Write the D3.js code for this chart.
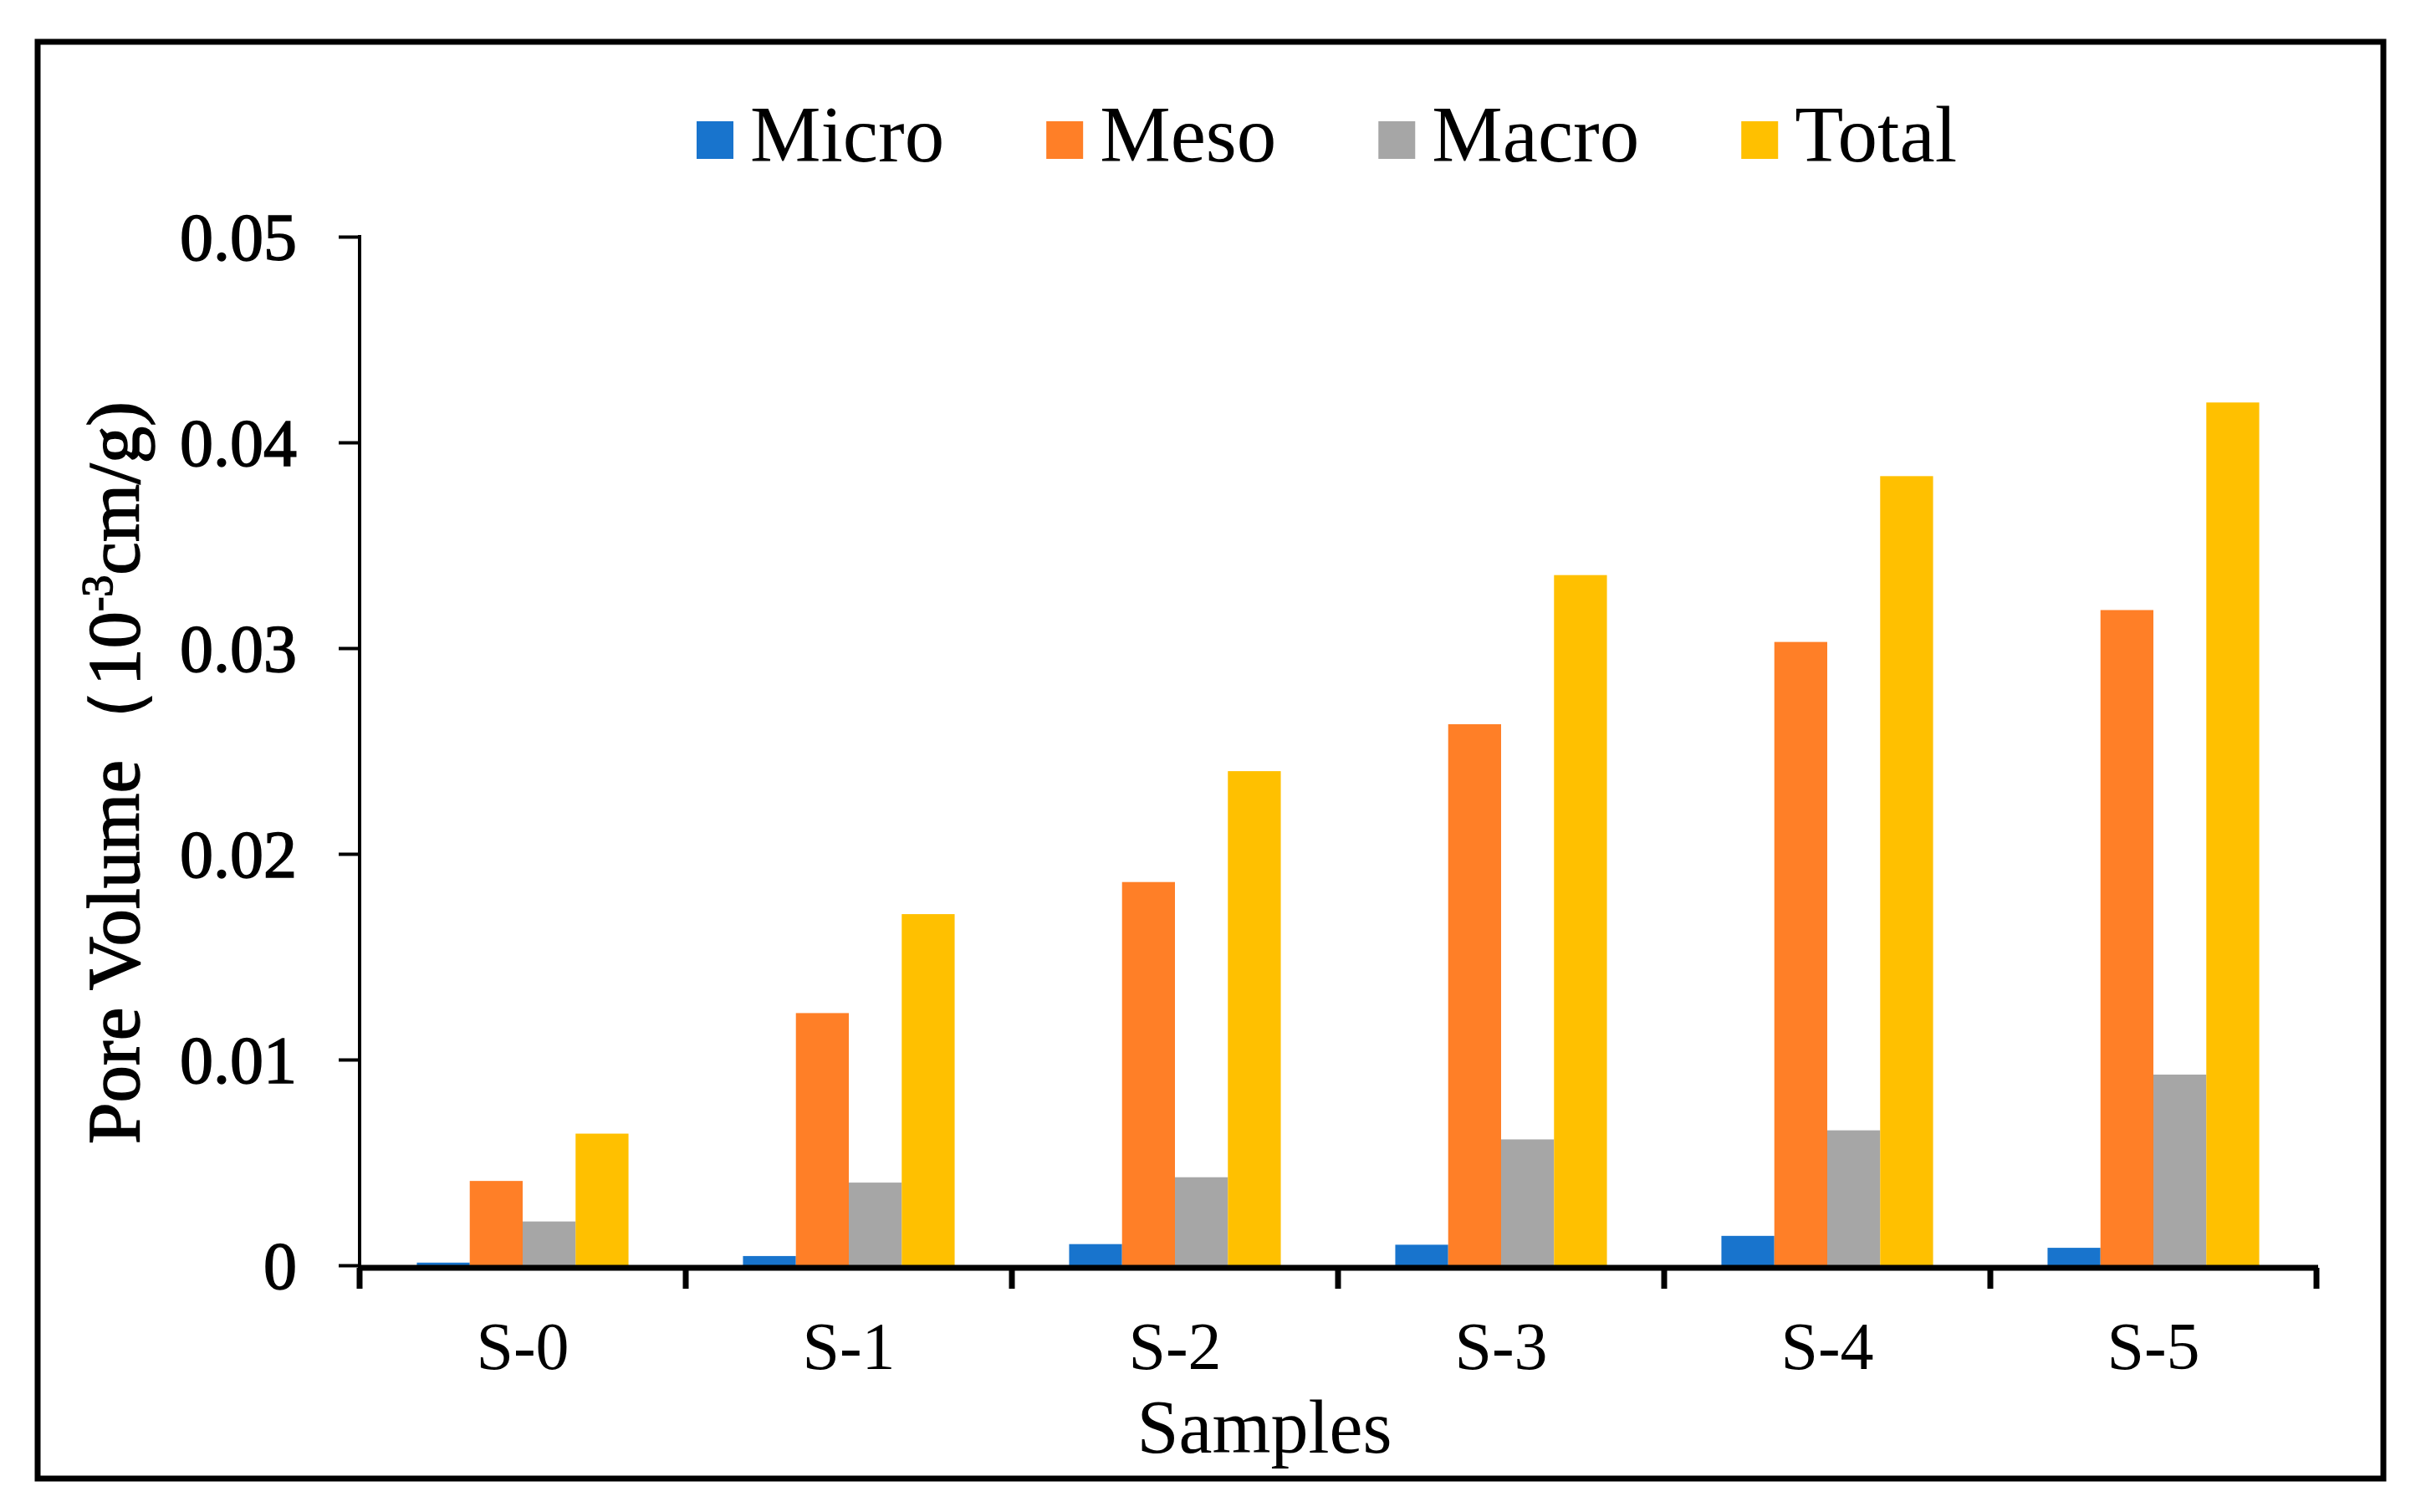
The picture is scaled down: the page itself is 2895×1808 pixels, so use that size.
<!DOCTYPE HTML>
<html lang="en">

<head>
  <meta charset="utf-8">
  <title>Pore Volume</title>
  <script src="https://cdnjs.cloudflare.com/ajax/libs/d3/7.8.5/d3.min.js"></script>
  <style>
    body { margin: 0; background: #fff; }
    text { font-family: "Liberation Serif", "Times New Roman", serif; fill: #000; }
  </style>
</head>

<body>
  <div id="stage"></div>

<script>
  // values
  var samples = ["S-0", "S-1", "S-2", "S-3", "S-4", "S-5"];
  var seriesNames = ["Micro", "Meso", "Macro", "Total"];
  var micro = [0.00013, 0.00045, 0.00103, 0.00100, 0.00143, 0.00085];
  var meso  = [0.00410, 0.01226, 0.01863, 0.02630, 0.03030, 0.03185];
  var macro = [0.00213, 0.00402, 0.00428, 0.00612, 0.00656, 0.00927];
  var total = [0.00640, 0.01707, 0.02402, 0.03355, 0.03836, 0.04194];
  var yTicks = [0, 0.01, 0.02, 0.03, 0.04, 0.05];
  var colors = ["#1874CD", "#FF7F27", "#A6A6A6", "#FFC000"];

  var values = [micro, meso, macro, total];
  var W = 2895, H = 1808;

  var svg = d3.select("#stage").append("svg")
    .attr("width", W).attr("height", H);
  svg.append("rect").attr("width", W).attr("height", H).style("fill", "#fff");

  // outer frame
  svg.append("rect")
    .attr("x", 45).attr("y", 50).attr("width", 2805).attr("height", 1718)
    .style("fill", "none").style("stroke", "#000").style("stroke-width", 7);

  var x = d3.scaleBand().domain(samples).range([430, 2770]).paddingInner(0.351).paddingOuter(0.1755);
  var xs = d3.scaleBand().domain(seriesNames).range([0, x.bandwidth()]);
  var y = d3.scaleLinear().domain([0, 0.05]).range([1513, 283]);

  // bars
  var groups = svg.selectAll("g.grp").data(samples).enter().append("g")
    .attr("class", "grp")
    .attr("transform", function(d) { return "translate(" + x(d) + ",0)"; });

  groups.selectAll("rect").data(function(d, i) {
      return seriesNames.map(function(s, k) { return {s: s, v: values[k][i], c: colors[k]}; });
    }).enter().append("rect")
    .attr("x", function(d) { return xs(d.s); })
    .attr("width", xs.bandwidth())
    .attr("y", function(d) { return y(d.v); })
    .attr("height", function(d) { return y(0) - y(d.v); })
    .style("fill", function(d) { return d.c; });

  // y axis
  var yAxis = svg.append("g").attr("transform", "translate(430,0)")
    .call(d3.axisLeft(y).tickValues(yTicks).tickSize(25).tickPadding(50)
      .tickFormat(function(d) { return d === 0 ? "0" : d3.format(".2f")(d); }));
  yAxis.select(".domain").remove();
  yAxis.selectAll(".tick line").style("stroke", "#000").style("stroke-width", 4);
  yAxis.selectAll(".tick text").style("font-size", "80px").attr("dy", "0.34em")
    .style("stroke", "#000").style("stroke-width", 1.5);
  svg.append("line").attr("x1", 430).attr("x2", 430).attr("y1", y(0.05) - 2).attr("y2", 1516)
    .style("stroke", "#000").style("stroke-width", 4);

  // x axis
  var xAxis = svg.append("g").attr("transform", "translate(0,1516)")
    .call(d3.axisBottom(x).tickSize(0).tickPadding(64));
  xAxis.select(".domain").remove();
  xAxis.selectAll(".tick text").style("font-size", "80px");
  svg.append("line").attr("x1", 430).attr("x2", 2772).attr("y1", 1516).attr("y2", 1516)
    .style("stroke", "#000").style("stroke-width", 7);
  var edges = samples.map(function(d) { return x(d) - x.step() * x.paddingInner() / 2; });
  edges.push(2770);
  svg.selectAll("line.xtick").data(edges).enter().append("line")
    .attr("class", "xtick")
    .attr("x1", function(d) { return d; }).attr("x2", function(d) { return d; })
    .attr("y1", 1516).attr("y2", 1541)
    .style("stroke", "#000").style("stroke-width", 7);

  // axis titles
  svg.append("text").attr("x", 1512).attr("y", 1737)
    .attr("text-anchor", "middle").style("font-size", "90px").text("Samples");

  var yl = svg.append("text").attr("transform", "translate(166,1368) rotate(-90)")
    .style("font-size", "89px").style("stroke", "#000").style("stroke-width", 1.5);
  yl.append("tspan").text("Pore Volume\uFF0810");
  yl.append("tspan").attr("dy", -32).style("font-size", "52px").text("-3");
  yl.append("tspan").attr("dy", 32).text("cm/g)");

  // legend
  var lx = 833;
  seriesNames.forEach(function(s, k) {
    svg.append("rect").attr("x", lx).attr("y", 145).attr("width", 44).attr("height", 45)
      .style("fill", colors[k]);
    var t = svg.append("text").attr("x", lx + 64).attr("y", 193)
      .style("font-size", "95px").text(s);
    lx = lx + 64 + t.node().getComputedTextLength() + 122;
  });
</script>
</body>
</html>
